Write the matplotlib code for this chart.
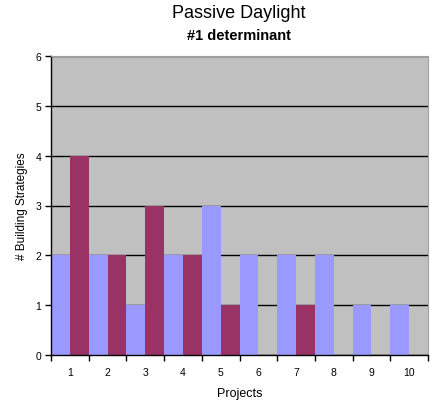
import matplotlib
matplotlib.use("Agg")
import matplotlib.pyplot as plt
import numpy as np

projects = [1, 2, 3, 4, 5, 6, 7, 8, 9, 10]
series_a = [2, 2, 1, 2, 3, 2, 2, 2, 1, 1]
series_b = [4, 2, 3, 2, 1, 0, 1, 0, 0, 0]
y_ticks = [0, 1, 2, 3, 4, 5, 6]

plt.rcParams['font.family'] = ['Liberation Sans', 'DejaVu Sans']

fig = plt.figure(figsize=(4.34, 4.02), dpi=100)
ax = fig.add_axes([51 / 434, 1 - 356 / 402, (428 - 51) / 434, (356 - 57) / 402])
ax.set_facecolor('#C0C0C0')

x = np.array(projects, dtype=float)
ax.bar(x - 0.25, series_a, width=0.5, color='#9999FF', zorder=2)
ax.bar(x + 0.25, series_b, width=0.5, color='#993366', zorder=2)

ax.set_xlim(0.5, 10.5)
ax.set_ylim(0, 6)
ax.set_yticks(y_ticks)
ax.yaxis.grid(True, color='black', linewidth=1.0, zorder=1)
ax.set_axisbelow(True)

ax.set_xticks(x)
ax.set_xticklabels([str(p) for p in projects], fontsize=7.5)
ax.set_xticks(np.arange(0.5, 11.0, 1.0), minor=True)
ax.tick_params(axis='x', which='major', length=0, pad=9)
ax.tick_params(axis='x', which='minor', length=4, width=1, color='black', direction='out')
ax.tick_params(axis='y', length=4, width=1, labelsize=7.5, pad=3)

for side in ('top', 'right'):
    ax.spines[side].set_color('#A0A0A0')
    ax.spines[side].set_linewidth(0.8)
for side in ('left', 'bottom'):
    ax.spines[side].set_color('black')
    ax.spines[side].set_linewidth(1.0)

ax.set_xlabel('Projects', fontsize=9, labelpad=7)
ax.set_ylabel('# Building Strategies', fontsize=8.5, labelpad=5)

cx = 239 / 434
fig.text(cx, 1 - 14 / 402, 'Passive Daylight', ha='center', va='center', fontsize=13)
fig.text(cx, 1 - 36 / 402, '#1 determinant', ha='center', va='center', fontsize=10.5, fontweight='bold')

fig.savefig('out.png', dpi=100, facecolor='white')
